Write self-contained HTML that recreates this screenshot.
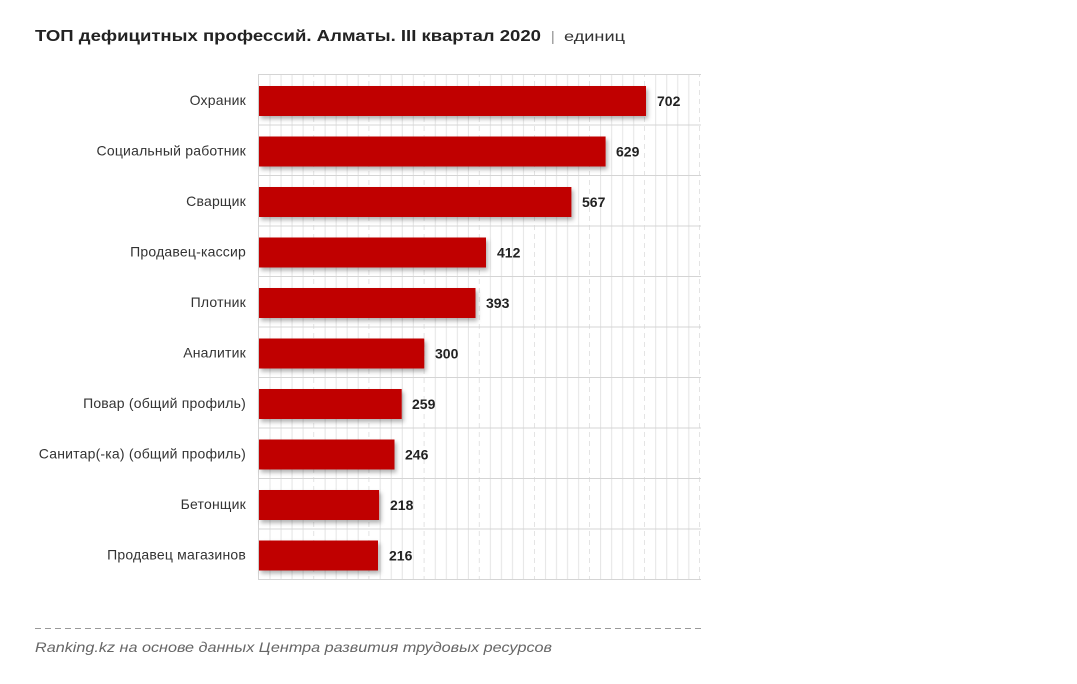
<!DOCTYPE html>
<html><head><meta charset="utf-8"><style>
html,body{margin:0;padding:0;background:#fff;width:1077px;height:684px;overflow:hidden}
svg text{font-family:"Liberation Sans","DejaVu Sans",sans-serif}
</style></head><body>
<svg width="1077" height="684" viewBox="0 0 1077 684" xmlns="http://www.w3.org/2000/svg">
<defs>
<pattern id="g" x="259" y="0" width="55.1" height="684" patternUnits="userSpaceOnUse">
<line x1="11.02" y1="0" x2="11.02" y2="684" stroke="#e4e4e4" stroke-width="1"/>
<line x1="22.04" y1="0" x2="22.04" y2="684" stroke="#e4e4e4" stroke-width="1"/>
<line x1="33.06" y1="0" x2="33.06" y2="684" stroke="#e4e4e4" stroke-width="1"/>
<line x1="44.08" y1="0" x2="44.08" y2="684" stroke="#e4e4e4" stroke-width="1"/>
<line x1="55.1" y1="0" x2="55.1" y2="684" stroke="#c8c8c8" stroke-width="1" stroke-dasharray="5,4"/>
</pattern>
<filter id="sh" x="-5%" y="-20%" width="110%" height="150%"><feDropShadow dx="2" dy="3" stdDeviation="2" flood-color="#000" flood-opacity="0.3"/></filter>
</defs>
<text x="35" y="41" font-size="16" font-weight="bold" fill="#222" textLength="506" lengthAdjust="spacingAndGlyphs">ТОП дефицитных профессий. Алматы. III квартал 2020</text>
<text x="551" y="41" font-size="14" fill="#888">|</text>
<text x="564" y="41" font-size="14" fill="#333" textLength="61" lengthAdjust="spacingAndGlyphs">единиц</text>
<rect x="258" y="74" width="443" height="506" fill="url(#g)"/>
<g stroke="#d4d4d4" stroke-width="1">
<line x1="258" y1="74.5" x2="701" y2="74.5"/>
<line x1="258" y1="125" x2="701" y2="125"/>
<line x1="258" y1="175.5" x2="701" y2="175.5"/>
<line x1="258" y1="226" x2="701" y2="226"/>
<line x1="258" y1="276.5" x2="701" y2="276.5"/>
<line x1="258" y1="327" x2="701" y2="327"/>
<line x1="258" y1="377.5" x2="701" y2="377.5"/>
<line x1="258" y1="428" x2="701" y2="428"/>
<line x1="258" y1="478.5" x2="701" y2="478.5"/>
<line x1="258" y1="529" x2="701" y2="529"/>
<line x1="258" y1="579.5" x2="701" y2="579.5"/>
<line x1="258.5" y1="74" x2="258.5" y2="580"/>
</g>
<g fill="#c00000" filter="url(#sh)">
<rect x="259" y="86" width="387" height="30"/>
<rect x="259" y="136.5" width="346.6" height="30"/>
<rect x="259" y="187" width="312.4" height="30"/>
<rect x="259" y="237.5" width="227" height="30"/>
<rect x="259" y="288" width="216.5" height="30"/>
<rect x="259" y="338.5" width="165.3" height="30"/>
<rect x="259" y="389" width="142.7" height="30"/>
<rect x="259" y="439.5" width="135.5" height="30"/>
<rect x="259" y="490" width="120.1" height="30"/>
<rect x="259" y="540.5" width="119" height="30"/>
</g>
<g font-size="14" font-weight="bold" fill="#222">
<text x="657" y="106">702</text>
<text x="616" y="156.5">629</text>
<text x="582" y="207">567</text>
<text x="497" y="257.5">412</text>
<text x="486" y="308">393</text>
<text x="435" y="358.5">300</text>
<text x="412" y="409">259</text>
<text x="405" y="459.5">246</text>
<text x="390" y="510">218</text>
<text x="389" y="560.5">216</text>
</g>
<g font-size="14" fill="#333" text-anchor="end" letter-spacing="0.2">
<text x="246" y="105">Охраник</text>
<text x="246" y="155.5">Социальный работник</text>
<text x="246" y="206">Сварщик</text>
<text x="246" y="256.5">Продавец-кассир</text>
<text x="246" y="307">Плотник</text>
<text x="246" y="357.5">Аналитик</text>
<text x="246" y="408">Повар (общий профиль)</text>
<text x="246" y="458.5">Санитар(-ка) (общий профиль)</text>
<text x="246" y="509">Бетонщик</text>
<text x="246" y="559.5">Продавец магазинов</text>
</g>
<line x1="35" y1="628.5" x2="702" y2="628.5" stroke="#999" stroke-width="1" stroke-dasharray="6,4"/>
<text x="35" y="652" font-size="14" font-style="italic" fill="#666" textLength="517" lengthAdjust="spacingAndGlyphs">Ranking.kz на основе данных Центра развития трудовых ресурсов</text>
</svg>
</body></html>
